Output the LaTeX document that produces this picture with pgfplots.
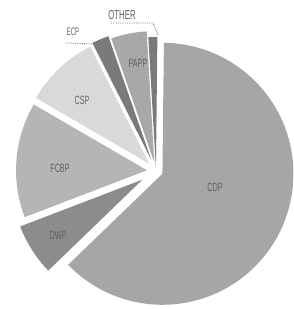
\documentclass[border=0pt]{standalone}
\usepackage{fontspec}
\setmainfont{Liberation Sans}
\usepackage{pgfplots}
\usepackage{pgfplotstable}
\pgfplotsset{compat=1.18}
% label value(%) explode(px) shade(% black)
\pgfplotstableread{
label value explode shade
CDP 62.6 7 35
OTHER 1.1 3 52
PAPP 4.4 9 34
ECP 2.1 12 52
CSP 9.2 10 15
FCBP 14.2 9 29
DWP 6.4 16 45
}\piedata
\begin{document}
\begin{tikzpicture}
\begin{axis}[name=pie, x=1pt, y=1pt, xmin=0, xmax=293, ymin=0, ymax=309,
  y dir=reverse, hide axis, scale only axis, clip=false]
\def\cx{156}\def\cy{171}\def\rad{131}
\gdef\cum{-136}
\pgfplotsinvokeforeach{0,...,6}{
  \pgfplotstablegetelem{#1}{value}\of\piedata \let\v\pgfplotsretval
  \pgfplotstablegetelem{#1}{explode}\of\piedata \let\e\pgfplotsretval
  \pgfplotstablegetelem{#1}{shade}\of\piedata \let\s\pgfplotsretval
  \pgfmathsetmacro\a{\cum}
  \pgfmathsetmacro\b{\cum+3.6*\v}
  \pgfmathsetmacro\m{(\a+\b)/2}
  \pgfmathsetmacro\px{\cx+\e*cos(\m)}
  \pgfmathsetmacro\py{\cy-\e*sin(\m)}
  \pgfmathsetmacro\qx{\px+\rad*cos(\a)}
  \pgfmathsetmacro\qy{\py-\rad*sin(\a)}
  \xdef\cum{\b}
  \edef\doit{\noexpand\fill[black!\s] (axis cs:\px,\py) -- (axis cs:\qx,\qy) arc[start angle=\a, end angle=\b, radius=\rad pt] -- cycle;}
  \doit
}
\tikzset{lab/.style={text=black!62, inner sep=0pt, xscale=0.6, font=\fontsize{12}{12}\selectfont}}
\node[lab] at (axis cs:215,187) {CDP};
\node[lab] at (axis cs:58,235) {DWP};
\node[lab] at (axis cs:60,168) {FCBP};
\node[lab] at (axis cs:82,100) {CSP};
\node[lab] at (axis cs:138,63) {PAPP};
\node[lab, xscale=0.9, font=\fontsize{11}{11}\selectfont] at (axis cs:73,32) {ECP};
\node[lab, font=\fontsize{13}{13}\selectfont] at (axis cs:122,15) {OTHER};
\draw[black!55, densely dotted, line width=0.8pt] (axis cs:66,43) -- (axis cs:96,44);
\draw[black!55, densely dotted, line width=0.8pt] (axis cs:111,23) -- (axis cs:153,23) -- (axis cs:158,35);
\end{axis}
\pgfresetboundingbox
\path (pie.south west) rectangle (pie.north east);
\end{tikzpicture}
\end{document}
